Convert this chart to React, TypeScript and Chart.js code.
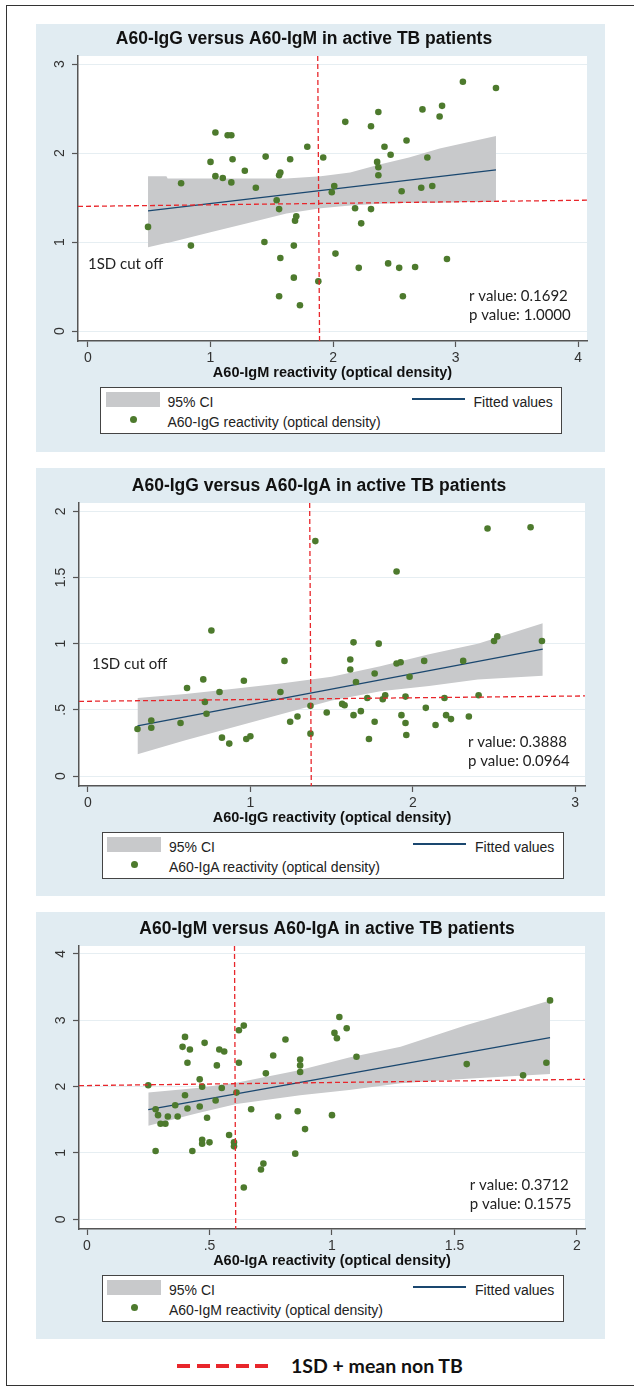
import React, { useEffect, useRef } from "react";
import { Chart, registerables } from "chart.js";
Chart.register(...registerables);

const ARIAL = "'Liberation Sans', Arial, sans-serif";
const CALIBRI = "Lato, 'Open Sans', sans-serif";
const GREEN = "#4d7a2d";
const NAVY = "#1a476f";
const BAND = "#c8c9cb";
const RED = "#e8262b";
const PANEL_BG = "#e1ecf2";
const GRID = "#e6eef2";
const AXIS = "#555555";
const PANEL_LEFT = 36;
const PANEL_W = 569;

// ---------- Panel 1: A60-IgG (y) versus A60-IgM (x) ----------
const p1IgM = [0.49, 0.76, 0.84, 1.0, 1.04, 1.04, 1.1, 1.14, 1.17, 1.18, 1.17, 1.28, 1.37, 1.44, 1.45, 1.54, 1.56, 1.56, 1.57, 1.57, 1.56, 1.65, 1.68, 1.69, 1.7, 1.68, 1.73, 1.79, 1.88, 1.92, 1.99, 2.01, 2.02, 2.1, 2.18, 2.21, 2.23, 2.31, 2.31, 2.36, 2.37, 2.37, 2.37, 2.42, 2.45, 2.47, 2.54, 2.56, 2.57, 2.6, 2.67, 2.72, 2.73, 2.77, 2.81, 2.87, 2.89, 2.93, 3.06, 3.33];
const p1IgG = [1.17, 1.66, 0.96, 1.9, 2.23, 1.74, 1.72, 2.2, 2.2, 1.93, 1.67, 1.8, 1.61, 1.0, 1.96, 1.47, 1.37, 1.75, 1.78, 0.82, 0.39, 1.93, 0.96, 1.24, 1.29, 0.6, 0.29, 2.07, 0.56, 1.95, 1.56, 1.63, 0.87, 2.35, 1.38, 0.71, 1.21, 2.3, 1.37, 1.9, 1.84, 1.75, 2.46, 2.07, 0.76, 1.98, 0.71, 1.57, 0.39, 2.14, 0.72, 1.61, 2.49, 1.95, 1.63, 2.41, 2.53, 0.81, 2.8, 2.73];
const p1FitX = [0.49, 3.33];
const p1FitY = [1.35, 1.81];
const p1BandX = [0.49, 0.64, 0.65, 1.0, 1.3, 1.62, 1.9, 2.14, 2.38, 2.62, 2.87, 3.1, 3.33];
const p1BandUpper = [1.74, 1.74, 1.715, 1.715, 1.715, 1.715, 1.74, 1.78, 1.87, 1.95, 2.05, 2.12, 2.19];
const p1BandLower = [0.94, 0.99, 0.99, 1.11, 1.21, 1.32, 1.38, 1.41, 1.43, 1.44, 1.44, 1.45, 1.45];
const p1CutY = [1.4, 1.47];
const p1CutX = [1.875, 1.89];
const p1XTicks = [0, 1, 2, 3, 4];
const p1YTicks = [0, 1, 2, 3];

// ---------- Panel 2: A60-IgA (y) versus A60-IgG (x) ----------
const p2IgG = [0.305, 0.39, 0.39, 0.57, 0.61, 0.71, 0.72, 0.73, 0.76, 0.81, 0.825, 0.87, 0.96, 0.975, 1.0, 1.185, 1.21, 1.245, 1.29, 1.37, 1.37, 1.4, 1.47, 1.565, 1.58, 1.615, 1.615, 1.635, 1.635, 1.65, 1.68, 1.72, 1.73, 1.765, 1.765, 1.79, 1.815, 1.83, 1.9, 1.9, 1.925, 1.93, 1.955, 1.955, 1.96, 1.98, 2.07, 2.08, 2.14, 2.195, 2.205, 2.235, 2.31, 2.345, 2.405, 2.46, 2.5, 2.52, 2.725, 2.795];
const p2IgA = [0.355, 0.42, 0.365, 0.4, 0.665, 0.73, 0.56, 0.47, 1.1, 0.635, 0.29, 0.245, 0.72, 0.28, 0.3, 0.635, 0.87, 0.41, 0.45, 0.53, 0.32, 1.775, 0.48, 0.545, 0.535, 0.88, 0.805, 1.01, 0.46, 0.71, 0.49, 0.59, 0.28, 0.775, 0.41, 1.0, 0.58, 0.61, 1.545, 0.85, 0.86, 0.46, 0.6, 0.4, 0.31, 0.75, 0.87, 0.515, 0.385, 0.59, 0.46, 0.43, 0.87, 0.45, 0.61, 1.87, 1.02, 1.055, 1.88, 1.02];
const p2FitX = [0.305, 2.8];
const p2FitY = [0.378, 0.958];
const p2BandX = [0.305, 0.6, 0.9, 1.2, 1.5, 1.8, 2.1, 2.4, 2.8];
const p2BandUpper = [0.59, 0.62, 0.66, 0.7, 0.75, 0.83, 0.92, 1.0, 1.155];
const p2BandLower = [0.165, 0.27, 0.37, 0.47, 0.57, 0.64, 0.68, 0.73, 0.757];
const p2CutY = [0.564, 0.605];
const p2CutX = [1.365, 1.375];
const p2XTicks = [0, 1, 2, 3];
const p2YTicks = [0, 0.5, 1, 1.5, 2];

// ---------- Panel 3: A60-IgM (y) versus A60-IgA (x) ----------
const p3IgA = [0.25, 0.28, 0.28, 0.29, 0.3, 0.32, 0.33, 0.36, 0.37, 0.39, 0.4, 0.4, 0.41, 0.41, 0.42, 0.43, 0.46, 0.46, 0.47, 0.47, 0.47, 0.48, 0.49, 0.5, 0.53, 0.525, 0.54, 0.56, 0.55, 0.58, 0.6, 0.6, 0.61, 0.62, 0.62, 0.64, 0.64, 0.67, 0.71, 0.72, 0.73, 0.76, 0.78, 0.81, 0.85, 0.86, 0.87, 0.87, 0.87, 0.89, 1.0, 1.01, 1.02, 1.03, 1.06, 1.1, 1.55, 1.78, 1.875, 1.89];
const p3IgM = [2.02, 1.66, 1.03, 1.57, 1.44, 1.44, 1.55, 1.72, 1.55, 2.6, 2.75, 1.87, 1.67, 2.36, 2.56, 1.03, 2.11, 1.7, 2.0, 1.2, 1.14, 2.66, 1.53, 1.16, 2.32, 1.79, 2.56, 2.53, 1.98, 1.27, 1.16, 1.1, 1.91, 2.36, 2.85, 2.92, 0.48, 1.66, 0.75, 0.84, 2.2, 2.47, 1.55, 2.71, 0.99, 1.63, 2.41, 2.32, 2.22, 1.36, 1.57, 2.81, 2.73, 3.05, 2.88, 2.45, 2.34, 2.17, 2.36, 3.3];
const p3FitX = [0.25, 1.89];
const p3FitY = [1.655, 2.74];
const p3BandX = [0.25, 0.45, 0.61, 0.87, 1.07, 1.28, 1.55, 1.89];
const p3BandUpper = [1.91, 1.98, 2.06, 2.25, 2.44, 2.6, 2.93, 3.3];
const p3BandLower = [1.41, 1.6, 1.74, 1.87, 1.95, 2.05, 2.12, 2.19];
const p3CutY = [2.015, 2.11];
const p3CutX = [0.602, 0.607];
const p3XTicks = [0, 0.5, 1, 1.5, 2];
const p3YTicks = [0, 1, 2, 3, 4];

const fmt = (v: number) => {
  const s = String(+v.toFixed(2));
  return s.startsWith("0.") ? s.slice(1) : s;
};

const pts = (xs: number[], ys: number[]) => xs.map((x, i) => ({ x, y: ys[i] }));

type Note = { text: string; x: number; y: number };
type Panel = {
  title: string;
  xTitle: string;
  yLabel: string;
  xs: number[];
  ys: number[];
  fitX: number[];
  fitY: number[];
  bandX: number[];
  bandU: number[];
  bandL: number[];
  cutY: number[];
  cutX: number[];
  xTicks: number[];
  yTicks: number[];
  xRange: number[];
  yRange: number[];
  notes: Note[];
  g: { top: number; bottom: number; plotLeft: number; plotRight: number; plotTop: number; plotBottom: number; titleX: number; legendLeft: number };
};

const panels: Panel[] = [
  {
    title: "A60-IgG versus A60-IgM in active TB patients",
    xTitle: "A60-IgM reactivity (optical density)",
    yLabel: "A60-IgG reactivity (optical density)",
    xs: p1IgM, ys: p1IgG, fitX: p1FitX, fitY: p1FitY,
    bandX: p1BandX, bandU: p1BandUpper, bandL: p1BandLower,
    cutY: p1CutY, cutX: p1CutX, xTicks: p1XTicks, yTicks: p1YTicks,
    xRange: [-0.0816, 4.073], yRange: [-0.112, 3.09],
    notes: [
      { text: "1SD cut off", x: 0.0, y: 0.75 },
      { text: "r value: 0.1692", x: 3.11, y: 0.39 },
      { text: "p value: 1.0000", x: 3.11, y: 0.18 },
    ],
    g: { top: 24, bottom: 452, plotLeft: 78, plotRight: 587, plotTop: 56, plotBottom: 341, titleX: 304, legendLeft: 100 },
  },
  {
    title: "A60-IgG versus A60-IgA in active TB patients",
    xTitle: "A60-IgG reactivity (optical density)",
    yLabel: "A60-IgA reactivity (optical density)",
    xs: p2IgG, ys: p2IgA, fitX: p2FitX, fitY: p2FitY,
    bandX: p2BandX, bandU: p2BandUpper, bandL: p2BandLower,
    cutY: p2CutY, cutX: p2CutX, xTicks: p2XTicks, yTicks: p2YTicks,
    xRange: [-0.055, 3.06], yRange: [-0.0755, 2.063],
    notes: [
      { text: "1SD cut off", x: 0.025, y: 0.846 },
      { text: "r value: 0.3888", x: 2.34, y: 0.257 },
      { text: "p value: 0.0964", x: 2.34, y: 0.113 },
    ],
    g: { top: 468, bottom: 896, plotLeft: 79, plotRight: 585, plotTop: 503, plotBottom: 786, titleX: 319, legendLeft: 101.5 },
  },
  {
    title: "A60-IgM versus A60-IgA in active TB patients",
    xTitle: "A60-IgA reactivity (optical density)",
    yLabel: "A60-IgM reactivity (optical density)",
    xs: p3IgA, ys: p3IgM, fitX: p3FitX, fitY: p3FitY,
    bandX: p3BandX, bandU: p3BandUpper, bandL: p3BandLower,
    cutY: p3CutY, cutX: p3CutX, xTicks: p3XTicks, yTicks: p3YTicks,
    xRange: [-0.0327, 2.0327], yRange: [-0.146, 4.12],
    notes: [
      { text: "r value: 0.3712", x: 1.5625, y: 0.517 },
      { text: "p value: 0.1575", x: 1.5625, y: 0.235 },
    ],
    g: { top: 912, bottom: 1339, plotLeft: 79, plotRight: 585, plotTop: 946, plotBottom: 1229, titleX: 327, legendLeft: 101.5 },
  },
];

function makeDecor(p: Panel) {
  return {
    id: "stataDecor",
    beforeDraw(chart: any) {
      const { ctx, chartArea: a } = chart;
      ctx.save();
      ctx.fillStyle = "#ffffff";
      ctx.fillRect(a.left, a.top, a.right - a.left, a.bottom - a.top);
      ctx.restore();
    },
    afterDraw(chart: any) {
      const { ctx, chartArea: a, scales } = chart;
      const sx = scales.x;
      const sy = scales.y;
      ctx.save();
      ctx.fillStyle = "#111";
      ctx.font = `bold 17.5px ${ARIAL}`;
      ctx.textAlign = "center";
      ctx.textBaseline = "middle";
      ctx.fillText(p.title, p.g.titleX - PANEL_LEFT, a.top - 17);
      ctx.font = `14px ${ARIAL}`;
      ctx.fillStyle = "#333";
      for (const t of sy.ticks) {
        const y = sy.getPixelForValue(t.value);
        ctx.save();
        ctx.translate(a.left - 18, y);
        ctx.rotate(-Math.PI / 2);
        ctx.fillText(fmt(t.value), 0, 0);
        ctx.restore();
      }
      ctx.font = `15px ${CALIBRI}`;
      ctx.fillStyle = "#222";
      ctx.textAlign = "left";
      for (const n of p.notes) {
        ctx.fillText(n.text, sx.getPixelForValue(n.x), sy.getPixelForValue(n.y));
      }
      ctx.restore();
    },
  };
}

function PanelChart({ p }: { p: Panel }) {
  const ref = useRef<HTMLCanvasElement | null>(null);
  const h = p.g.bottom - p.g.top;
  useEffect(() => {
    if (!ref.current) return;
    const xAxisH = 41;
    const chart = new Chart(ref.current, {
      type: "scatter",
      data: {
        datasets: [
          {
            type: "line",
            data: pts(p.bandX, p.bandU),
            showLine: true,
            fill: "+1",
            backgroundColor: BAND,
            borderWidth: 0,
            borderColor: "rgba(0,0,0,0)",
            pointRadius: 0,
            tension: 0,
            order: 6,
          } as any,
          {
            type: "line",
            data: pts(p.bandX, p.bandL),
            showLine: true,
            fill: false,
            borderWidth: 0,
            borderColor: "rgba(0,0,0,0)",
            pointRadius: 0,
            tension: 0,
            order: 7,
          } as any,
          {
            type: "line",
            data: pts(p.fitX, p.fitY),
            showLine: true,
            fill: false,
            borderColor: NAVY,
            borderWidth: 1.3,
            pointRadius: 0,
            order: 3,
          } as any,
          {
            type: "scatter",
            data: pts(p.xs, p.ys),
            backgroundColor: GREEN,
            borderColor: GREEN,
            borderWidth: 0,
            pointRadius: 3.3,
            order: 2,
          } as any,
          {
            type: "line",
            data: pts(p.xRange, p.cutY),
            showLine: true,
            fill: false,
            borderColor: RED,
            borderWidth: 1.3,
            borderDash: [5, 3],
            pointRadius: 0,
            order: 1,
          } as any,
          {
            type: "line",
            data: pts(p.cutX, [p.yRange[1], p.yRange[0]]),
            showLine: true,
            fill: false,
            borderColor: RED,
            borderWidth: 1.3,
            borderDash: [5, 3],
            pointRadius: 0,
            order: 0,
          } as any,
        ],
      },
      options: {
        animation: false,
        responsive: false,
        devicePixelRatio: 1,
        events: [],
        layout: {
          padding: {
            top: p.g.plotTop - p.g.top,
            left: 0,
            right: PANEL_LEFT + PANEL_W - p.g.plotRight,
            bottom: h - (p.g.plotBottom - p.g.top) - xAxisH,
          },
        },
        plugins: { legend: { display: false }, tooltip: { enabled: false }, title: { display: false } },
        scales: {
          x: {
            type: "linear",
            min: p.xRange[0],
            max: p.xRange[1],
            afterBuildTicks: (s: any) => {
              s.ticks = p.xTicks.map((v) => ({ value: v }));
            },
            afterFit: (s: any) => {
              s.height = xAxisH;
            },
            ticks: {
              callback: (v: any) => fmt(Number(v)),
              font: { family: ARIAL, size: 14 },
              color: "#333",
              padding: 3,
              maxRotation: 0,
              autoSkip: false,
            },
            grid: { drawOnChartArea: false, drawTicks: true, tickLength: 6, tickColor: AXIS, tickWidth: 1.2 },
            border: { display: true, color: AXIS, width: 1.5 },
            title: {
              display: true,
              text: p.xTitle,
              font: { family: ARIAL, size: 14.5, weight: "bold" },
              color: "#111",
              padding: { top: 0, bottom: 0 },
            },
          },
          y: {
            type: "linear",
            min: p.yRange[0],
            max: p.yRange[1],
            afterBuildTicks: (s: any) => {
              s.ticks = p.yTicks.map((v) => ({ value: v }));
            },
            afterFit: (s: any) => {
              s.width = p.g.plotLeft - PANEL_LEFT;
            },
            ticks: { display: false },
            grid: { color: GRID, lineWidth: 1, drawTicks: true, tickLength: 6, tickColor: AXIS, tickWidth: 1.2 },
            border: { display: true, color: AXIS, width: 1.5 },
          },
        },
      } as any,
      plugins: [makeDecor(p)],
    });
    return () => chart.destroy();
  }, [p]);
  return (
    <canvas
      ref={ref}
      width={PANEL_W}
      height={h}
      style={{ position: "absolute", left: PANEL_LEFT, top: p.g.top, width: PANEL_W, height: h }}
    />
  );
}

function Legend({ p }: { p: Panel }) {
  const top = p.g.plotBottom + 46;
  const text: React.CSSProperties = {
    position: "absolute",
    transform: "translateY(-50%)",
    lineHeight: "1",
    whiteSpace: "nowrap",
  };
  return (
    <div
      style={{
        position: "absolute",
        left: p.g.legendLeft,
        top,
        width: 462,
        height: 47,
        boxSizing: "border-box",
        border: "1.5px solid #444",
        background: "#fff",
        fontFamily: ARIAL,
        fontSize: 14,
        color: "#222",
      }}
    >
      <div style={{ position: "absolute", left: 4.5, top: 3.5, width: 54, height: 15, background: BAND }} />
      <div style={{ ...text, left: 66.5, top: 13.5 }}>95% CI</div>
      <div style={{ position: "absolute", left: 310.5, top: 10, width: 53, height: 1.5, background: NAVY }} />
      <div style={{ ...text, left: 372.5, top: 13.5 }}>Fitted values</div>
      <div style={{ position: "absolute", left: 28.5, top: 28, width: 7, height: 7, borderRadius: "50%", background: GREEN }} />
      <div style={{ ...text, left: 66.5, top: 34 }}>{p.yLabel}</div>
    </div>
  );
}

export default function App() {
  const dashes = [0, 1, 2, 3, 4];
  return (
    <div style={{ position: "absolute", left: 0, top: 0, width: 634, height: 1388, overflow: "hidden", background: "#fff" }}>
      <div
        style={{
          position: "absolute",
          left: 6,
          top: 5,
          width: 700,
          height: 1381,
          boxSizing: "border-box",
          border: "1.5px solid #333",
        }}
      />
      {panels.map((p, i) => (
        <React.Fragment key={i}>
          <div
            style={{
              position: "absolute",
              left: PANEL_LEFT,
              top: p.g.top,
              width: PANEL_W,
              height: p.g.bottom - p.g.top,
              background: PANEL_BG,
            }}
          />
          <PanelChart p={p} />
          <Legend p={p} />
        </React.Fragment>
      ))}
      {dashes.map((d) => (
        <div
          key={d}
          style={{ position: "absolute", left: 177 + d * 19.5, top: 1364, width: 13, height: 4, background: RED }}
        />
      ))}
      <div
        style={{
          position: "absolute",
          left: 291,
          top: 1366,
          transform: "translateY(-50%)",
          fontFamily: CALIBRI,
          fontWeight: 700,
          fontSize: 19.5,
          lineHeight: "1",
          color: "#111",
          whiteSpace: "nowrap",
        }}
      >
        1SD + mean non TB
      </div>
    </div>
  );
}
